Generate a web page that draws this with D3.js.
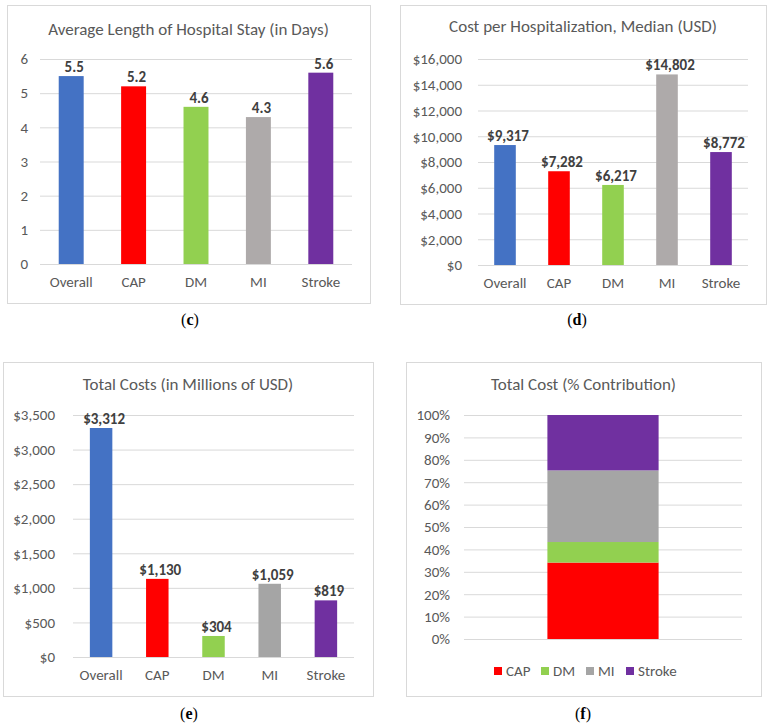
<!DOCTYPE html>
<html>
<head>
<meta charset="utf-8">
<script src="https://cdn.jsdelivr.net/npm/d3@7"></script>
<style>
  body { margin: 0; background: #fff; }
  text { font-family: Carlito, Lato, "Open Sans", sans-serif; }
</style>
</head>
<body>
<svg id="chart" width="770" height="725"></svg>
<script>
// categories and values
const categories = ["Overall", "CAP", "DM", "MI", "Stroke"];
const stayDays = [5.5, 5.2, 4.6, 4.3, 5.6];
const medianCost = [9317, 7282, 6217, 14802, 8772];
const totalCost = [3312, 1130, 304, 1059, 819];
const stackCategories = ["CAP", "DM", "MI", "Stroke"];
const stackCost = [1130, 304, 1059, 819]; // shares of the $3,312M total

const colors = { Overall: "#4472C4", CAP: "#FF0000", DM: "#92D050", MI: "#AEAAAA", Stroke: "#7030A0" };
const grey = "#595959";

const svg = d3.select("#chart");

function panelFrame(box, title, titleY) {
  svg.append("rect")
    .attr("x", box.x0 + 0.5).attr("y", box.y0 + 0.5)
    .attr("width", box.x1 - box.x0).attr("height", box.y1 - box.y0)
    .attr("fill", "#fff").attr("stroke", "#D9D9D9");
  svg.append("text")
    .attr("x", (box.x0 + box.x1) / 2).attr("y", titleY)
    .attr("text-anchor", "middle").attr("dy", "0.35em")
    .style("font-size", "17px").style("fill", grey)
    .text(title);
}

function barPanel(opts) {
  panelFrame(opts.box, opts.title, opts.titleY);

  let x = d3.scaleBand().domain(categories).range([opts.left, opts.right]).paddingInner(0.6).paddingOuter(0.3);
  let y = d3.scaleLinear().domain([0, opts.max]).range([opts.bottom, opts.top]);

  let g = svg.append("g");

  let yAxis = g.append("g")
    .attr("transform", `translate(${opts.left},0)`)
    .call(d3.axisLeft(y).tickValues(d3.range(0, opts.max + 1e-9, opts.step))
      .tickSize(-(opts.right - opts.left)).tickPadding(opts.pad).tickFormat(opts.fmt));
  yAxis.select(".domain").remove();
  yAxis.selectAll("line").attr("stroke", "#D9D9D9");
  yAxis.selectAll("text").style("font-size", "15px").style("fill", grey);

  let xAxis = g.append("g")
    .attr("transform", `translate(0,${opts.bottom})`)
    .call(d3.axisBottom(x).tickSize(0).tickPadding(12));
  xAxis.select(".domain").remove();
  xAxis.selectAll("text").style("font-size", "15px").style("fill", grey);

  g.selectAll("rect.bar").data(opts.values).enter().append("rect")
    .attr("class", "bar")
    .attr("x", (d, i) => x(categories[i]))
    .attr("y", d => y(d))
    .attr("width", x.bandwidth())
    .attr("height", d => opts.bottom - y(d))
    .attr("fill", (d, i) => (opts.colors || colors)[categories[i]]);

  g.selectAll("text.lbl").data(opts.values).enter().append("text")
    .attr("class", "lbl")
    .attr("x", (d, i) => x(categories[i]) + x.bandwidth() / 2 + 3)
    .attr("y", d => y(d) - 4)
    .attr("text-anchor", "middle")
    .style("font-size", "15px").style("font-weight", "bold").style("fill", "#404040")
    .text(d => opts.label(d));
}

function caption(letter, cx, cy) {
  let t = svg.append("text").attr("x", cx).attr("y", cy).attr("text-anchor", "middle")
    .style("font-family", "'Liberation Serif', 'DejaVu Serif', serif").style("font-size", "16px").style("fill", "#000");
  t.append("tspan").text("(");
  t.append("tspan").style("font-weight", "bold").text(letter);
  t.append("tspan").text(")");
}

const dollar = d3.format("$,");

// (c) length of stay
barPanel({
  box: { x0: 7, y0: 5, x1: 370, y1: 303 }, title: "Average Length of Hospital Stay (in Days)", titleY: 29,
  left: 40, right: 352, top: 59, bottom: 264, max: 6, step: 1, pad: 12,
  fmt: d3.format("d"), values: stayDays, label: d => d.toFixed(1)
});

// (d) median cost per hospitalization
barPanel({
  box: { x0: 400, y0: 5, x1: 766, y1: 304 }, title: "Cost per Hospitalization, Median (USD)", titleY: 26,
  left: 478, right: 748, top: 59, bottom: 265, max: 16000, step: 2000, pad: 16,
  fmt: dollar, values: medianCost, label: dollar
});

// (e) total costs
barPanel({
  box: { x0: 3, y0: 362, x1: 373, y1: 696 }, title: "Total Costs (in Millions of USD)", titleY: 384,
  left: 73, right: 354, top: 415, bottom: 657, max: 3500, step: 500, pad: 18,
  fmt: dollar, values: totalCost, label: dollar,
  colors: Object.assign({}, colors, { MI: "#A5A5A5" })
});

// (f) stacked % contribution
(function () {
  let box = { x0: 406, y0: 362, x1: 761, y1: 696 };
  panelFrame(box, "Total Cost (% Contribution)", 384);
  let left = 464, right = 742, top = 415, bottom = 639;
  let y = d3.scaleLinear().domain([0, 1]).range([bottom, top]);
  let x = d3.scaleBand().domain(["Total"]).range([left, right]).paddingInner(0.6).paddingOuter(0.3);
  let stackColors = Object.assign({}, colors, { MI: "#A5A5A5" });

  let yAxis = svg.append("g")
    .attr("transform", `translate(${left},0)`)
    .call(d3.axisLeft(y).tickValues(d3.range(0, 1.0001, 0.1))
      .tickSize(-(right - left)).tickPadding(14).tickFormat(d3.format(".0%")));
  yAxis.select(".domain").remove();
  yAxis.selectAll("line").attr("stroke", "#D9D9D9");
  yAxis.selectAll("text").style("font-size", "15px").style("fill", grey);

  let total = d3.sum(stackCost);
  let row = { Total: "Total" };
  stackCategories.forEach((c, i) => row[c] = stackCost[i] / total);
  let series = d3.stack().keys(stackCategories)([row]);

  svg.append("g").selectAll("rect").data(series).enter().append("rect")
    .attr("x", x("Total"))
    .attr("width", x.bandwidth())
    .attr("y", s => y(s[0][1]))
    .attr("height", s => y(s[0][0]) - y(s[0][1]))
    .attr("fill", s => stackColors[s.key]);

  // legend
  let legendX = [494, 541, 586, 626];
  let lg = svg.append("g").selectAll("g").data(stackCategories).enter().append("g")
    .attr("transform", (d, i) => `translate(${legendX[i]},671)`);
  lg.append("rect").attr("x", 0).attr("y", -4).attr("width", 8).attr("height", 8)
    .attr("fill", d => stackColors[d]);
  lg.append("text").attr("x", 12).attr("dy", "0.35em")
    .style("font-size", "15px").style("fill", grey).text(d => d);
})();

caption("c", 190, 325);
caption("d", 577, 325);
caption("e", 189, 719);
caption("f", 583, 719);
</script>
</body>
</html>
